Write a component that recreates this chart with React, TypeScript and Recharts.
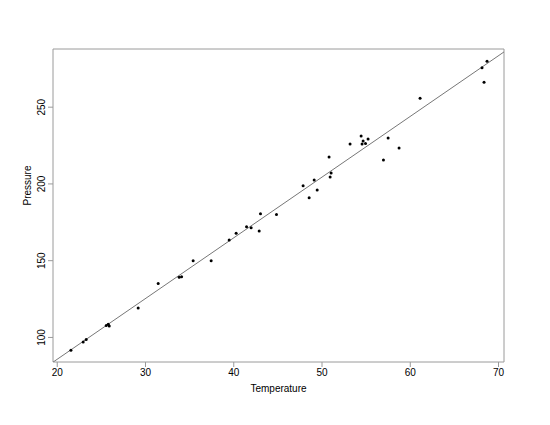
import {
  ScatterChart,
  Scatter,
  XAxis,
  YAxis,
  ReferenceLine,
  ReferenceArea,
} from "recharts";

// observed temperature / pressure pairs
const temperature = [
  21.55, 22.94, 23.28, 25.55, 25.78, 25.89, 29.17, 31.44, 33.82, 34.09,
  35.4, 37.44, 39.48, 40.27, 41.45, 41.97, 42.88, 43.03, 44.84, 47.86,
  48.54, 49.11, 49.45, 50.8, 50.92, 51.03, 53.18, 54.43, 54.66, 54.54,
  54.93, 55.22, 56.96, 57.49, 58.73, 61.11, 68.13, 68.7, 68.36,
];
const pressure = [
  91.6, 97.1, 98.7, 107.8, 108.6, 107.5, 119.2, 135.1, 139.2, 139.6,
  150.0, 150.0, 163.4, 167.9, 172.1, 171.4, 169.3, 180.5, 180.1, 198.8,
  191.0, 202.6, 196.1, 217.5, 204.5, 207.1, 226.0, 231.2, 227.9, 226.0,
  226.4, 229.2, 215.6, 229.9, 223.4, 255.8, 275.7, 279.9, 266.2,
];

const xTicks = [20, 30, 40, 50, 60, 70];
const yTicks = [100, 150, 200, 250];
const xDomain = [19.52, 70.62];
const yDomain = [84.0, 287.9];

// least squares fit line
const fitSlope = 3.955;
const fitIntercept = 6.7;

const points = temperature.map((t, i) => ({ t, p: pressure[i] }));

const boxColor = "#9a9a9a";
const font = "'Liberation Sans', Arial, sans-serif";

function Dot(props: { cx?: number; cy?: number }) {
  const { cx, cy } = props;
  if (cx == null || cy == null) return null;
  return <circle cx={cx} cy={cy} r={1.5} fill="#000" />;
}

function YTick(props: { x?: number; y?: number; payload?: { value: number } }) {
  const { x = 0, y = 0, payload } = props;
  return (
    <text
      x={x - 1}
      y={y}
      transform={`rotate(-90, ${x - 1}, ${y})`}
      textAnchor="middle"
      fontSize={10}
      fontFamily={font}
      fill="#000"
    >
      {payload?.value}
    </text>
  );
}

export default function App() {
  return (
    <div style={{ position: "absolute", left: 0, top: 0, background: "#fff" }}>
      <ScatterChart
        width={550}
        height={425}
        margin={{ top: 49, right: 46, left: 0, bottom: 0 }}
      >
        <XAxis
          type="number"
          dataKey="t"
          domain={xDomain}
          ticks={xTicks}
          allowDataOverflow
          height={63}
          axisLine={false}
          tickLine={{ stroke: boxColor }}
          tickSize={5}
          tick={{ fontSize: 10, fill: "#000", fontFamily: font }}
          label={{
            value: "Temperature",
            position: "insideTop",
            offset: 23,
            fontSize: 10,
            fill: "#000",
            fontFamily: font,
          }}
        />
        <YAxis
          type="number"
          dataKey="p"
          domain={yDomain}
          ticks={yTicks}
          allowDataOverflow
          width={53}
          axisLine={false}
          tickLine={{ stroke: boxColor }}
          tickSize={5}
          tick={<YTick />}
          label={{
            value: "Pressure",
            angle: -90,
            position: "insideLeft",
            offset: 27,
            fontSize: 10,
            fill: "#000",
            fontFamily: font,
          }}
        />
        <ReferenceArea
          x1={xDomain[0]}
          x2={xDomain[1]}
          y1={yDomain[0]}
          y2={yDomain[1]}
          fill="none"
          stroke={boxColor}
          strokeWidth={1}
        />
        <ReferenceLine
          segment={[
            { x: xDomain[0], y: fitIntercept + fitSlope * xDomain[0] },
            { x: xDomain[1], y: fitIntercept + fitSlope * xDomain[1] },
          ]}
          stroke="#777"
          strokeWidth={1}
          ifOverflow="hidden"
        />
        <Scatter
          data={points}
          shape={<Dot />}
          isAnimationActive={false}
        />
      </ScatterChart>
    </div>
  );
}
